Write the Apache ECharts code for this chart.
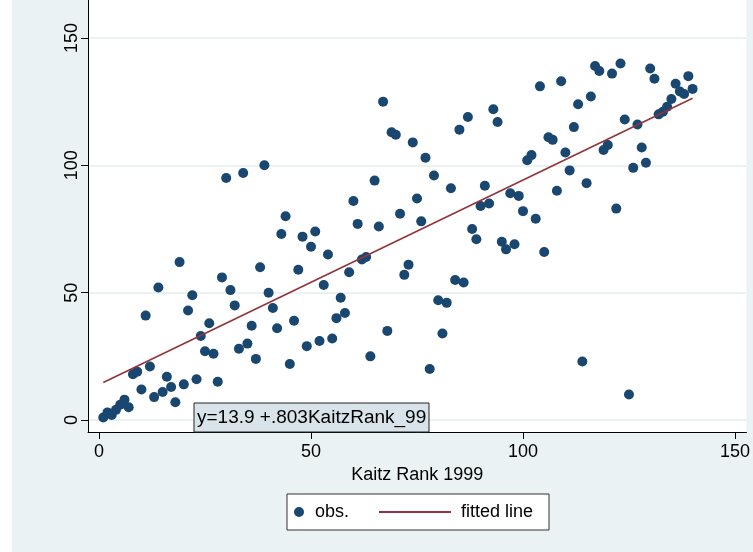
<!DOCTYPE html>
<html>
<head>
<meta charset="utf-8">
<script src="https://cdn.jsdelivr.net/npm/echarts@6/dist/echarts.min.js"></script>
<style>
html, body { margin: 0; padding: 0; background: #fff; }
#chart {
    width: 753px;
    height: 552px;
    background: linear-gradient(to right, #fff 0, #fff 12px, #EAF2F3 12px);
}
</style>
</head>
<body>
<div id="chart"></div>
<script>
// Kaitz rank 1999 (x) against the other rank (y)
const kaitzRank = [
    1, 2, 3, 4, 5, 6, 7, 8, 9, 10,
    11, 12, 13, 14, 15, 16, 17, 18, 19, 20,
    21, 22, 23, 24, 25, 26, 27, 28, 29, 30,
    31, 32, 33, 34, 35, 36, 37, 38, 39, 40,
    41, 42, 43, 44, 45, 46, 47, 48, 49, 50,
    51, 52, 53, 54, 55, 56, 57, 58, 59, 60,
    61, 62, 63, 64, 65, 66, 67, 68, 69, 70,
    71, 72, 73, 74, 75, 76, 77, 78, 79, 80,
    81, 82, 83, 84, 85, 86, 87, 88, 89, 90,
    91, 92, 93, 94, 95, 96, 97, 98, 99, 100,
    101, 102, 103, 104, 105, 106, 107, 108, 109, 110,
    111, 112, 113, 114, 115, 116, 117, 118, 119, 120,
    121, 122, 123, 124, 125, 126, 127, 128, 129, 130,
    131, 132, 133, 134, 135, 136, 137, 138, 139, 140
];
const obsRank = [
    1, 3, 2, 4, 6, 8, 5, 18, 19, 12,
    41, 21, 9, 52, 11, 17, 13, 7, 62, 14,
    43, 49, 16, 33, 27, 38, 26, 15, 56, 95,
    51, 45, 28, 97, 30, 37, 24, 60, 100, 50,
    44, 36, 73, 80, 22, 39, 59, 72, 29, 68,
    74, 31, 53, 65, 32, 40, 48, 42, 58, 86,
    77, 63, 64, 25, 94, 76, 125, 35, 113, 112,
    81, 57, 61, 109, 87, 78, 103, 20, 96, 47,
    34, 46, 91, 55, 114, 54, 119, 75, 71, 84,
    92, 85, 122, 117, 70, 67, 89, 69, 88, 82,
    102, 104, 79, 131, 66, 111, 110, 90, 133, 105,
    98, 115, 124, 23, 93, 127, 139, 137, 106, 108,
    136, 83, 140, 118, 10, 99, 116, 107, 101, 138,
    134, 120, 121, 123, 126, 132, 129, 128, 135, 130
];

// fitted line end points: y = 13.9 + .803 x, x from 1 to 140
const fitX = [1, 140];
const fitY = [14.7, 126.3];
const fitText = 'y=13.9 +.803KaitzRank_99';

const tickValues = [0, 50, 100, 150];
const xAxisName = 'Kaitz Rank 1999';

const FONT = '"Liberation Sans", Arial, sans-serif';
const NAVY = '#1A476F';
const MAROON = '#90353B';

const chart = echarts.init(document.getElementById('chart'), null, { renderer: 'canvas' });

const points = kaitzRank.map((x, i) => [x, obsRank[i]]);
const fitted = fitX.map((x, i) => [x, fitY[i]]);

const option = {
    animation: false,
    textStyle: { fontFamily: FONT },
    grid: {
        left: 88,
        right: 4,
        top: 0,
        bottom: 120,
        show: true,
        backgroundColor: '#fff',
        borderWidth: 0
    },
    xAxis: {
        type: 'value',
        min: -2.6,
        max: 152.7,
        name: xAxisName,
        nameLocation: 'middle',
        nameGap: 29,
        nameTextStyle: { fontSize: 18, color: '#000', fontFamily: FONT },
        axisLine: { show: true, onZero: false, lineStyle: { color: '#000', width: 1 } },
        axisTick: { show: true, length: 7, customValues: tickValues, lineStyle: { color: '#000' } },
        axisLabel: { customValues: tickValues, fontSize: 18, color: '#000', margin: 11, fontFamily: FONT },
        splitLine: { show: false }
    },
    yAxis: {
        type: 'value',
        min: -4.7,
        max: 164.9,
        axisLine: { show: true, onZero: false, lineStyle: { color: '#000', width: 1 } },
        axisTick: { show: true, length: 7, customValues: tickValues, lineStyle: { color: '#000' } },
        axisLabel: { customValues: tickValues, rotate: 90, fontSize: 18, color: '#000', margin: 7, fontFamily: FONT },
        splitLine: { show: true, lineStyle: { color: '#EAF2F3', width: 2 } }
    },
    legend: [
        {
            data: [{ name: 'obs.', icon: 'circle' }],
            left: 294,
            top: 503,
            padding: 0,
            itemWidth: 10,
            itemHeight: 10,
            selectedMode: false,
            textStyle: { fontSize: 18, color: '#000', fontFamily: FONT, padding: [0, 0, 0, 6] }
        },
        {
            data: [{ name: 'fitted line', icon: 'rect' }],
            left: 379,
            top: 503,
            padding: 0,
            itemWidth: 72,
            itemHeight: 2,
            selectedMode: false,
            textStyle: { fontSize: 18, color: '#000', fontFamily: FONT, padding: [0, 0, 0, 5] }
        }
    ],
    graphic: [
        {
            type: 'rect',
            shape: { x: 287, y: 494, width: 262, height: 36 },
            style: { fill: '#fff', stroke: '#333', lineWidth: 1 },
            z: -1
        },
        {
            type: 'rect',
            shape: { x: 194, y: 403, width: 235, height: 29 },
            style: { fill: '#D8E4EA', stroke: '#222', lineWidth: 1 },
            z: 20
        },
        {
            type: 'text',
            x: 197,
            y: 418,
            z: 21,
            style: {
                text: fitText,
                fontSize: 19,
                fontFamily: FONT,
                fill: '#000',
                verticalAlign: 'middle'
            }
        }
    ],
    series: [
        {
            name: 'obs.',
            type: 'scatter',
            data: points,
            symbol: 'circle',
            symbolSize: 10,
            itemStyle: { color: NAVY, opacity: 1 },
            z: 2
        },
        {
            name: 'fitted line',
            type: 'line',
            data: fitted,
            symbol: 'none',
            lineStyle: { color: MAROON, width: 1.6 },
            itemStyle: { color: MAROON },
            z: 3
        }
    ]
};

chart.setOption(option);
</script>
</body>
</html>
